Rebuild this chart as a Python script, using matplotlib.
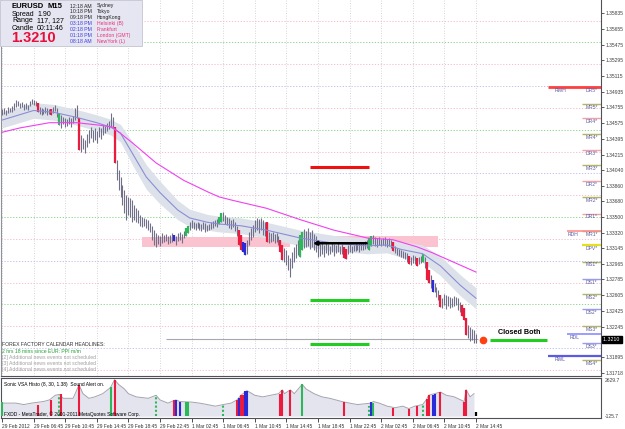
import numpy as np
import matplotlib.pyplot as plt
from matplotlib.patches import Rectangle
from matplotlib.transforms import blended_transform_factory

# --- CONFIGURATION ---
W, H = 625, 429
plt.rcParams["font.family"] = ["Liberation Sans", "DejaVu Sans"]

# EURUSD M15, bar 0 = 29 Feb 02:45, one bar every 15 minutes
bar_high = [
    1.3474, 1.3475, 1.3472, 1.3476, 1.3475, 1.3477, 1.3481, 1.3484, 1.3483, 1.3481,
    1.3482, 1.3479, 1.3481, 1.3478, 1.3483, 1.3485, 1.3484, 1.3483, 1.3481, 1.3476,
    1.3475, 1.3474, 1.3476, 1.3475, 1.3474, 1.3474, 1.3476, 1.3478, 1.3475, 1.3469,
    1.3467, 1.3464, 1.3463, 1.3462, 1.3464, 1.3463, 1.3466, 1.3475, 1.3478, 1.3463,
    1.3444, 1.3440, 1.3438, 1.3445, 1.3450, 1.3453, 1.3450, 1.3452, 1.3448, 1.3453,
    1.3452, 1.3455, 1.3454, 1.3458, 1.3460, 1.3469, 1.3464, 1.3453, 1.3415, 1.3404,
    1.3396, 1.3387, 1.3381, 1.3375, 1.3373, 1.3372, 1.3369, 1.3364, 1.3360, 1.3358,
    1.3352, 1.3350, 1.3349, 1.3348, 1.3347, 1.3343, 1.3340, 1.3335, 1.3332, 1.3329,
    1.3328, 1.3332, 1.3329, 1.3331, 1.3328, 1.3329, 1.3332, 1.3329, 1.3328, 1.3332,
    1.3333, 1.3331, 1.3334, 1.3337, 1.3340, 1.3344, 1.3347, 1.3344, 1.3343, 1.3344,
    1.3343, 1.3342, 1.3344, 1.3343, 1.3341, 1.3342, 1.3344, 1.3345, 1.3347, 1.3348,
    1.3350, 1.3355, 1.3356, 1.3352, 1.3350, 1.3349, 1.3347, 1.3348, 1.3344, 1.3340,
    1.3335, 1.3329, 1.3321, 1.3320, 1.3324, 1.3333, 1.3337, 1.3341, 1.3347, 1.3349,
    1.3348, 1.3349, 1.3347, 1.3344, 1.3344, 1.3333, 1.3332, 1.3333, 1.3331, 1.3332,
    1.3328, 1.3324, 1.3318, 1.3315, 1.3312, 1.3307, 1.3303, 1.3310, 1.3316, 1.3319,
    1.3324, 1.3329, 1.3333, 1.3336, 1.3334, 1.3337, 1.3333, 1.3335, 1.3331, 1.3328,
    1.3320, 1.3319, 1.3321, 1.3318, 1.3320, 1.3319, 1.3317, 1.3320, 1.3319, 1.3318,
    1.3320, 1.3317, 1.3319, 1.3316, 1.3313, 1.3318, 1.3319, 1.3317, 1.3318, 1.3320,
    1.3319, 1.3320, 1.3321, 1.3320, 1.3323, 1.3324, 1.3326, 1.3328, 1.3329, 1.3327,
    1.3326, 1.3327, 1.3325, 1.3326, 1.3327, 1.3325, 1.3326, 1.3324, 1.3321, 1.3317,
    1.3315, 1.3313, 1.3312, 1.3311, 1.3310, 1.3309, 1.3305, 1.3304, 1.3307, 1.3305,
    1.3303, 1.3304, 1.3305, 1.3308, 1.3304, 1.3298, 1.3289, 1.3284, 1.3278, 1.3274,
    1.3270, 1.3266, 1.3261, 1.3257, 1.3262, 1.3261, 1.3260, 1.3258, 1.3257, 1.3260,
    1.3258, 1.3257, 1.3253, 1.3249, 1.3246, 1.3234, 1.3226, 1.3224, 1.3222, 1.3221,
    1.3216,
]
bar_low = [
    1.3467, 1.3468, 1.3467, 1.3469, 1.3470, 1.3470, 1.3472, 1.3476, 1.3477, 1.3475,
    1.3476, 1.3472, 1.3474, 1.3472, 1.3477, 1.3479, 1.3478, 1.3477, 1.3470, 1.3468,
    1.3467, 1.3468, 1.3469, 1.3467, 1.3468, 1.3467, 1.3469, 1.3471, 1.3464, 1.3455,
    1.3452, 1.3456, 1.3453, 1.3454, 1.3456, 1.3453, 1.3458, 1.3461, 1.3463, 1.3427,
    1.3424, 1.3428, 1.3423, 1.3430, 1.3435, 1.3440, 1.3436, 1.3438, 1.3435, 1.3442,
    1.3439, 1.3444, 1.3446, 1.3448, 1.3451, 1.3453, 1.3452, 1.3412, 1.3392, 1.3381,
    1.3373, 1.3364, 1.3355, 1.3347, 1.3352, 1.3350, 1.3344, 1.3347, 1.3344, 1.3343,
    1.3340, 1.3339, 1.3340, 1.3337, 1.3335, 1.3333, 1.3324, 1.3318, 1.3316, 1.3319,
    1.3317, 1.3320, 1.3321, 1.3323, 1.3319, 1.3320, 1.3321, 1.3323, 1.3318, 1.3323,
    1.3324, 1.3320, 1.3326, 1.3328, 1.3332, 1.3335, 1.3337, 1.3336, 1.3335, 1.3337,
    1.3335, 1.3334, 1.3336, 1.3333, 1.3334, 1.3335, 1.3336, 1.3337, 1.3340, 1.3339,
    1.3342, 1.3344, 1.3345, 1.3342, 1.3341, 1.3337, 1.3336, 1.3339, 1.3334, 1.3328,
    1.3318, 1.3312, 1.3310, 1.3307, 1.3308, 1.3318, 1.3324, 1.3327, 1.3333, 1.3335,
    1.3332, 1.3335, 1.3329, 1.3328, 1.3321, 1.3320, 1.3321, 1.3323, 1.3320, 1.3321,
    1.3318, 1.3310, 1.3301, 1.3298, 1.3295, 1.3289, 1.3281, 1.3292, 1.3298, 1.3303,
    1.3307, 1.3304, 1.3312, 1.3315, 1.3316, 1.3317, 1.3313, 1.3316, 1.3312, 1.3310,
    1.3304, 1.3305, 1.3308, 1.3304, 1.3309, 1.3307, 1.3308, 1.3310, 1.3305, 1.3309,
    1.3310, 1.3308, 1.3308, 1.3303, 1.3302, 1.3308, 1.3310, 1.3309, 1.3311, 1.3311,
    1.3312, 1.3310, 1.3312, 1.3312, 1.3313, 1.3315, 1.3312, 1.3317, 1.3319, 1.3317,
    1.3316, 1.3318, 1.3317, 1.3318, 1.3317, 1.3316, 1.3317, 1.3315, 1.3311, 1.3309,
    1.3307, 1.3305, 1.3304, 1.3303, 1.3302, 1.3298, 1.3296, 1.3295, 1.3297, 1.3296,
    1.3294, 1.3296, 1.3297, 1.3298, 1.3292, 1.3278, 1.3274, 1.3269, 1.3264, 1.3264,
    1.3258, 1.3255, 1.3247, 1.3246, 1.3249, 1.3245, 1.3248, 1.3246, 1.3247, 1.3248,
    1.3249, 1.3244, 1.3241, 1.3237, 1.3232, 1.3215, 1.3212, 1.3208, 1.3209, 1.3206,
    1.3206,
]
red_bars = [18, 25, 39, 57, 120, 121, 134, 141, 142, 173, 174, 198, 206, 210, 215, 216, 222, 233, 234, 235]
green_bars = [29, 93, 94, 110, 111, 151, 152, 186, 187, 213]
blue_bars = [87, 122, 123, 218]

# fast MA with its grey channel, slow MA (magenta)
ma_idx = [0, 16, 26, 38, 48, 55, 60, 66, 73, 80, 89, 95, 104, 110, 121, 134, 151, 168, 185, 195, 202, 213, 222, 232, 240]
ma_fast = [1.3461, 1.3472, 1.3470, 1.3464, 1.3458, 1.3453, 1.3446, 1.3423, 1.3396, 1.3378, 1.3358, 1.3349, 1.3344,
           1.3342, 1.3340, 1.3335, 1.3326, 1.3320, 1.3317, 1.3318, 1.3313, 1.3308, 1.3294, 1.3272, 1.3257]
ma_band = [0.0009, 0.0009, 0.0009, 0.0009, 0.0009, 0.0009, 0.0010, 0.0013, 0.0014, 0.0013, 0.0011, 0.0010, 0.0009,
           0.0009, 0.0009, 0.0009, 0.0009, 0.0009, 0.0009, 0.0009, 0.0009, 0.0010, 0.0011, 0.0012, 0.0012]
slow_idx = [0, 9, 24, 38, 50, 56, 66, 78, 92, 104, 110, 117, 134, 151, 168, 185, 198, 210, 218, 226, 240]
ma_slow = [1.3447, 1.3452, 1.3458, 1.3458, 1.3455, 1.3453, 1.3435, 1.3412, 1.3392, 1.3379, 1.3373, 1.3369, 1.3360,
           1.3347, 1.3335, 1.3326, 1.3324, 1.3316, 1.3309, 1.3301, 1.3287]

# supply / demand zones: (first bar, last bar, low, high)
zones = [(71, 146, 1.3316, 1.3327), (165, 221, 1.3316, 1.3328)]

# trade drawing levels
trade_start, trade_end = 156, 186
target_red = 1.3407
entry_black = 1.3320
green_levels = [1.3255, 1.3205]
bid_price = 1.3210
closed_price = 1.3209

# round-number levels every 25 pips
round_levels = [1.3575, 1.3550, 1.3525, 1.3500, 1.3475, 1.3450, 1.3425, 1.3400, 1.3375,
                1.3350, 1.3325, 1.3300, 1.3275, 1.3250, 1.3225, 1.3200, 1.3175]

# pivot levels at the right side
pivot_names = ["DR5*", "MR5*", "DR4*", "MR4*", "DR3*", "MR3*", "DR2*", "MR2*", "DR1*", "MR1*", "DPV*",
               "MS1*", "DS1*", "MS2*", "DS2*", "MS3*", "DS3*", "MS4*"]
pivot_prices = [1.3499, 1.3479, 1.3463, 1.3445, 1.3427, 1.3410, 1.3391, 1.3373, 1.3354, 1.3334, 1.3318,
                1.3299, 1.3279, 1.3262, 1.3245, 1.3225, 1.3206, 1.3186]
range_names = ["RWH", "RDH", "RDL", "RWL"]
range_prices = [1.3499, 1.3334, 1.3216, 1.3191]

axis_labels = [1.35835, 1.35655, 1.35475, 1.35295, 1.35115, 1.34935, 1.34755, 1.34575, 1.34395, 1.34215,
               1.34040, 1.33860, 1.33680, 1.33500, 1.33320, 1.33145, 1.32965, 1.32785, 1.32605, 1.32425,
               1.32245, 1.32065, 1.31895, 1.31718]

time_idx = [0, 16, 32, 48, 64, 80, 96, 112, 128, 144, 160, 176, 192, 208, 224, 240]
time_labels = ["29 Feb 2012", "29 Feb 06:45", "29 Feb 10:45", "29 Feb 14:45", "29 Feb 18:45", "29 Feb 22:45",
               "1 Mar 02:45", "1 Mar 06:45", "1 Mar 10:45", "1 Mar 14:45", "1 Mar 18:45", "1 Mar 22:45",
               "2 Mar 02:45", "2 Mar 06:45", "2 Mar 10:45", "2 Mar 14:45"]

# Sonic VSA histogram
vol_idx = [0, 7, 11, 15, 21, 24, 27, 29, 31, 36, 39, 41, 44, 47, 51, 55, 57, 59, 62, 64, 68, 74, 78, 80, 84,
           88, 90, 96, 100, 104, 108, 112, 116, 119, 121, 124, 128, 132, 136, 140, 142, 143, 146, 148, 152,
           154, 158, 162, 166, 172, 176, 180, 187, 188, 191, 195, 199, 203, 206, 209, 213, 215, 216, 219, 222,
           225, 229, 234, 235, 237, 239]
vol_val = [900, 900, 800, 900, 1010, 1120, 1440, 1500, 1230, 1230, 2150, 1550, 1230, 1330, 1550, 1980, 2520,
           2190, 1870, 1550, 1330, 1230, 1440, 1120, 900, 1120, 1010, 970, 900, 800, 690, 800, 900, 1120, 1440,
           1760, 1440, 1330, 1440, 1550, 1810, 1550, 1810, 1550, 2190, 1870, 1550, 1330, 1230, 1010, 900, 800,
           900, 1010, 900, 690, 580, 690, 520, 690, 800, 1160, 1440, 1550, 1660, 1440, 1330, 1010, 1830, 1330, 1550]
vbar_idx = [0, 18, 25, 29, 30, 39, 55, 57, 78, 87, 88, 90, 93, 94, 112, 119, 120, 121, 122, 123, 124, 141, 142,
            146, 152, 173, 186, 187, 188, 198, 206, 210, 213, 215, 216, 218, 219, 222, 234, 235]
vbar_val = [1010, 800, 1120, 1440, 1500, 2150, 1980, 2520, 1440, 1120, 1120, 1010, 970, 970, 800, 1120, 1230,
            1440, 1440, 1760, 1760, 1550, 1810, 1810, 2190, 1010, 690, 1010, 900, 580, 520, 690, 800, 1160,
            1440, 1440, 1550, 1660, 1010, 1830]
vbar_kind = ["g", "r", "r", "gd", "r", "r", "g", "r", "gd", "r", "b", "b", "g", "g", "gd", "r", "b", "r", "r", "b",
             "b", "r", "r", "r", "g", "r", "gd", "b", "g", "r", "r", "r", "gd", "r", "r", "b", "b", "r", "r", "r"]
current_bar, current_vol = 240, 260

RED, GREEN, BLUE = "#ec1a3c", "#2cb85a", "#2a2ad8"
PIV_TXT = "#5a5aa0"

fig = plt.figure(figsize=(W / 100, H / 100), dpi=100)
ax = fig.add_axes([1 / W, 1 - 376 / H, 600 / W, 376 / H])
axv = fig.add_axes([1 / W, 1 - 418 / H, 600 / W, 40 / H])

XMIN, XMAX = -0.51, 303.3
ax.set_xlim(XMIN, XMAX)
ax.set_ylim(1.31680, 1.35985)
axv.set_xlim(XMIN, XMAX)
axv.set_ylim(-125.7, 2629.7)

# grid
for t in time_idx:
    ax.axvline(t, color="#c8c8d4", lw=0.6, ls=(0, (1, 2)), zorder=0)
for i, lv in enumerate(round_levels):
    kind = i % 4
    col = ["#f6b4c6", "#7ccf7c", "#f6b4c6", "#b8b8ec"][kind]
    ax.axhline(lv, color=col, lw=0.6, ls=(0, (1.5, 2)), zorder=0)

# zones
for a, b, lo, hi in zones:
    ax.add_patch(Rectangle((a, lo), b - a, hi - lo, facecolor="#fbc3cf", edgecolor="none", zorder=1))

# MA channel
ma_fast_a = np.array(ma_fast)
ma_band_a = np.array(ma_band)
ax.fill_between(ma_idx, ma_fast_a - ma_band_a, ma_fast_a + ma_band_a, color="#dde2ea", lw=0, zorder=2)
ax.plot(ma_idx, ma_fast, color="#8c8cd6", lw=0.8, zorder=4)
ax.plot(slow_idx, ma_slow, color="#f040f0", lw=0.8, zorder=4)

# bars
idx = np.arange(len(bar_high))
hi_a = np.array(bar_high)
lo_a = np.array(bar_low)
ax.vlines(idx, lo_a, hi_a, color="#70708a", lw=0.8, zorder=3)
for sel, col in [(red_bars, RED), (green_bars, GREEN), (blue_bars, BLUE)]:
    ax.vlines(sel, lo_a[sel], hi_a[sel], color=col, lw=1.6, zorder=3.5)

# trade drawings
ax.hlines(target_red, trade_start, trade_end, color="#f01010", lw=2.2, zorder=5)
for g in green_levels:
    ax.hlines(g, trade_start, trade_end, color="#22cc22", lw=2.2, zorder=5)
ax.annotate("", xy=(trade_start, entry_black), xytext=(trade_end, entry_black),
            arrowprops=dict(arrowstyle="-|>", color="black", lw=1.8, mutation_scale=5), zorder=5)
ax.hlines(bid_price, 83, 241, color="#a8a8b0", lw=0.8, zorder=2)
ax.hlines(closed_price, 247, 276, color="#22cc22", lw=2.2, zorder=5)
ax.plot([243.5], [closed_price], "o", color="#ff4010", ms=4.5, mec="#ff4010", zorder=6)
ax.text(251, closed_price + 0.0005, "Closed Both", fontsize=5.2, fontweight="bold", va="bottom", zorder=6)

# pivots
for name, p in zip(pivot_names, pivot_prices):
    if name.startswith("DR"):
        col, lw = "#f4a0a8", 1.0
    elif name.startswith("DS"):
        col, lw = "#9a9aee", 1.0
    elif name.startswith("DPV"):
        col, lw = "#e4e020", 1.6
    else:
        col, lw = "#b4b464", 1.0
    ax.hlines(p, 293.7, XMAX, color=col, lw=lw, zorder=5)
    ax.text(295.5, p - 0.0001, name, fontsize=3.6, color=PIV_TXT, va="top", zorder=6)
range_start = [276.5, 286, 286, 276.5]
range_cols = ["#ff4040", "#ff8c8c", "#8c8cff", "#5a5ae6"]
range_lw = [2.0, 1.2, 1.2, 1.6]
range_txt_x = [280, 286.5, 287.5, 280]
for name, p, s, c, w, tx in zip(range_names, range_prices, range_start, range_cols, range_lw, range_txt_x):
    ax.hlines(p, s, XMAX, color=c, lw=w, zorder=5)
    ax.text(tx, p - 0.0001, name, fontsize=3.6, color=PIV_TXT, va="top", zorder=6)

# axes styling
for a in (ax, axv):
    for s in a.spines.values():
        s.set_color("#505058")
        s.set_linewidth(0.8)
ax.spines["top"].set_visible(False)
ax.spines["left"].set_color("#909098")
ax.set_xticks([])
ax.yaxis.tick_right()
ax.set_yticks(axis_labels)
ax.set_yticklabels([f"{v:.5f}" for v in axis_labels])
ax.tick_params(axis="y", labelsize=3.6, length=2.5, pad=1.0, colors="#404040", width=0.6)
trans = blended_transform_factory(ax.transAxes, ax.transData)
ax.text(1.004, bid_price, "1.3210 ", transform=trans, fontsize=3.8, color="white", va="center",
        bbox=dict(facecolor="black", edgecolor="black", pad=0.8), zorder=10, clip_on=False)

# info panel
fig.add_artist(Rectangle((0, 1 - 46 / H), 142 / W, 46 / H, transform=fig.transFigure,
                         facecolor="#e6e6f2", edgecolor="#c4c4d0", lw=0.6, zorder=20))
fig.text(12 / W, 1 - 6 / H, "EURUSD", fontsize=5.5, fontweight="bold", va="center", zorder=21)
fig.text(47 / W, 1 - 6 / H, "M15", fontsize=5.5, fontweight="bold", va="center", zorder=21)
for y, k, v in [(14, "Spread", "1.90"), (21, "Range", "117, 127"), (28, "Candle", "00:11:46")]:
    fig.text(12 / W, 1 - y / H, k, fontsize=5.0, va="center", zorder=21)
    fig.text(37 / W, 1 - y / H, v, fontsize=5.0, va="center", zorder=21)
fig.text(11 / W, 1 - 38.5 / H, "1.3210", fontsize=10.5, fontweight="bold", color="#e8103a", va="center", zorder=21)
sessions = [("12:18 AM", "Sydney"), ("10:18 PM", "Tokyo"), ("09:18 PM", "HongKong"), ("03:18 PM", "Helsinki (B)"),
            ("02:18 PM", "Frankfurt"), ("01:18 PM", "London (GMT)"), ("08:18 AM", "NewYork (L)")]
for k, (tm, city) in enumerate(sessions):
    y = 6 + k * 5.9
    c1, c2 = ("#202020", "#202020") if k < 3 else ("#3a3ae0", "#e8307a")
    fig.text(70 / W, 1 - y / H, tm, fontsize=3.7, color=c1, va="center", zorder=21)
    fig.text(97 / W, 1 - y / H, city, fontsize=3.7, color=c2, va="center", zorder=21)

# news block
fig.text(2 / W, 1 - 345 / H, "FOREX FACTORY CALENDAR HEADLINES:", fontsize=3.7, color="#303030", va="center")
fig.text(2 / W, 1 - 351.5 / H, "2 hrs 18 mins since EUR: PPI m/m", fontsize=3.7, color="#22a030", va="center")
for k in range(3):
    fig.text(2 / W, 1 - (358 + 6 * k) / H, f"[{k + 2}] Additional news events not scheduled",
             fontsize=3.7, color="#a0a0a0", va="center")

# volume pane
axv.fill_between(vol_idx, 0, vol_val, color="#e4e4ee", lw=0, zorder=1)
axv.plot(vol_idx, vol_val, color="#a4a4ae", lw=0.7, zorder=2)
for i, v, k in zip(vbar_idx, vbar_val, vbar_kind):
    col = {"r": RED, "g": GREEN, "gd": GREEN, "b": BLUE}[k]
    ls = (0, (1, 1)) if k == "gd" else "-"
    axv.vlines(i, 0, v, color=col, lw=1.5, ls=ls, zorder=3)
axv.vlines(current_bar, 0, current_vol, color="black", lw=1.6, zorder=3)
axv.text(0.005, 0.84, "Sonic VSA Histo (8, 30, 1.38)  Sound Alert on.", transform=axv.transAxes,
         fontsize=3.5, va="center", zorder=5)
axv.text(0.005, 0.1, "FXDD - MetaTrader, \u00a9 2001-2011 MetaQuotes Software Corp.", transform=axv.transAxes,
         fontsize=3.5, va="center", zorder=5)
axv.set_yticks([])
axv.text(1.007, 1.0, "2629.7", transform=axv.transAxes, fontsize=3.6, va="top", color="#404040")
axv.text(1.007, 0.03, "-125.7", transform=axv.transAxes, fontsize=3.6, va="center", color="#404040")
axv.set_xticks(time_idx)
axv.set_xticklabels(time_labels, ha="left")
axv.tick_params(axis="x", labelsize=3.5, length=3, pad=1, colors="#303030", width=0.6)

fig.savefig("out.png", dpi=100)
